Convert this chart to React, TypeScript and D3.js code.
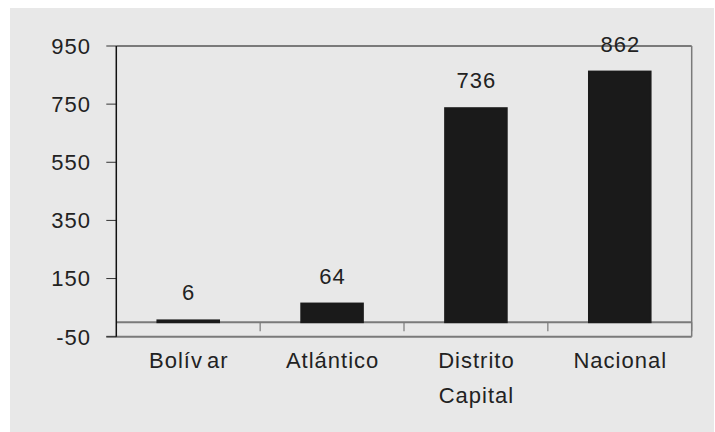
import React from "react";
import * as d3 from "d3";

const categories: string[][] = [["Bolívar"], ["Atlántico"], ["Distrito", "Capital"], ["Nacional"]];
const values: number[] = [6, 64, 736, 862];
const yTicks: number[] = [-50, 150, 350, 550, 750, 950];

const W = 715;
const H = 432;
const plot = { left: 116.3, right: 691.7, top: 46, bottom: 336.7 };
const FONT = "'Liberation Sans', Arial, sans-serif";
const BAR = "#1a1a1a";
const LINE = "#7a7a7a";

export default function App() {
  const y = d3.scaleLinear().domain([-50, 950]).range([plot.bottom, plot.top]);
  const x = d3
    .scaleBand<number>()
    .domain(values.map((_, i) => i))
    .range([plot.left, plot.right])
    .paddingInner(0.572)
    .paddingOuter(0.286);
  const band = d3
    .scaleBand<number>()
    .domain(values.map((_, i) => i))
    .range([plot.left, plot.right]);
  const y0 = y(0);

  const textStyle = { fontFamily: FONT, fontSize: 22, letterSpacing: "1px", fill: "#222" };

  return (
    <svg
      width={W}
      height={H}
      style={{ position: "absolute", left: 0, top: 0, display: "block", background: "#ffffff" }}
    >
      <rect x={10} y={8} width={704} height={H - 8} fill="#e8e8e8" />

      {/* frame */}
      <line x1={plot.left} x2={plot.right} y1={plot.top} y2={plot.top} stroke={LINE} strokeWidth={2} />
      <line x1={plot.right} x2={plot.right} y1={plot.top} y2={plot.bottom} stroke={LINE} strokeWidth={1.5} />
      <line x1={plot.left - 10} x2={plot.right} y1={plot.bottom} y2={plot.bottom} stroke={LINE} strokeWidth={2} />

      {/* y axis ticks and labels */}
      {yTicks.map((t) => (
        <g key={t}>
          <line x1={plot.left - 10} x2={plot.left} y1={y(t)} y2={y(t)} stroke="#333" strokeWidth={1} />
          <text x={91} y={y(t)} dy="0.36em" textAnchor="end" style={textStyle}>
            {t}
          </text>
        </g>
      ))}

      {/* zero line with category separators */}
      <line x1={plot.left} x2={plot.right} y1={y0} y2={y0} stroke={LINE} strokeWidth={2} />
      {values.map((_, i) => (
        <line
          key={i}
          x1={(band(i) as number) + band.bandwidth()}
          x2={(band(i) as number) + band.bandwidth()}
          y1={y0}
          y2={y0 + 9}
          stroke={LINE}
          strokeWidth={1.2}
        />
      ))}

      {/* bars */}
      {values.map((v, i) => (
        <rect
          key={i}
          x={x(i)}
          y={Math.min(y(v), y0)}
          width={x.bandwidth()}
          height={Math.abs(y0 - y(v))}
          fill={BAR}
          stroke={BAR}
          strokeWidth={2}
        />
      ))}

      {/* left axis */}
      <line x1={plot.left} x2={plot.left} y1={plot.top} y2={plot.bottom} stroke="#111" strokeWidth={1.5} />

      {/* value labels */}
      {values.map((v, i) => (
        <text
          key={i}
          x={(x(i) as number) + x.bandwidth() / 2 + 0.5}
          y={y(v) - 20}
          textAnchor="middle"
          style={textStyle}
        >
          {v}
        </text>
      ))}

      {/* category labels */}
      {categories.map((lines, i) => (
        <text
          key={i}
          x={(band(i) as number) + band.bandwidth() / 2 + 0.5}
          y={368}
          textAnchor="middle"
          style={textStyle}
        >
          {lines.map((l, j) => (
            <tspan key={j} x={(band(i) as number) + band.bandwidth() / 2 + 0.5} dy={j === 0 ? 0 : 35}>
              {l === "Bolívar" ? (
                <>
                  Bolív<tspan dx={4}>ar</tspan>
                </>
              ) : (
                l
              )}
            </tspan>
          ))}
        </text>
      ))}
    </svg>
  );
}
